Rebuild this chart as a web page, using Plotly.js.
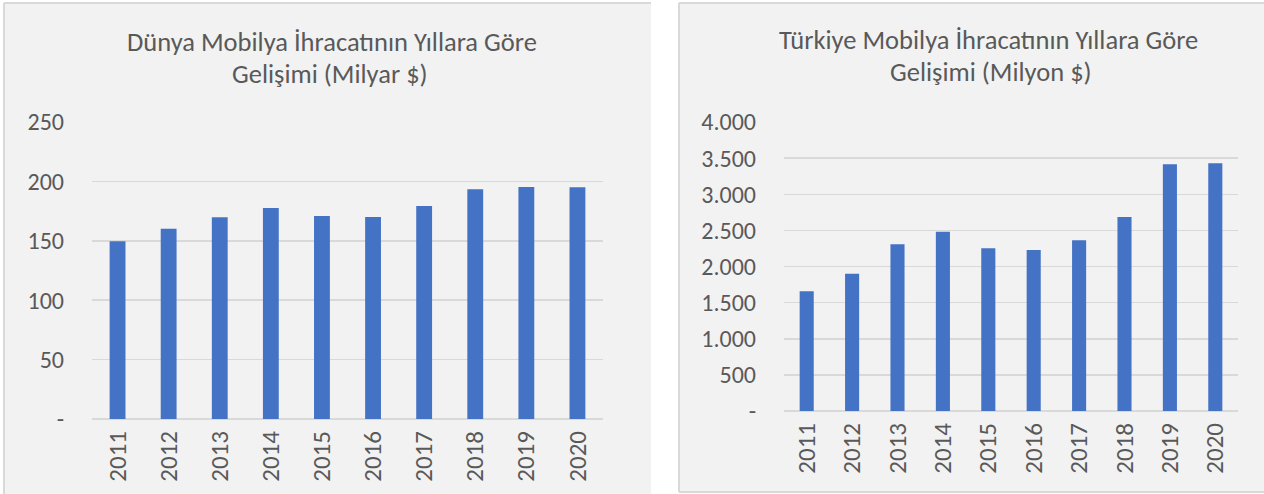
<!DOCTYPE html>
<html>
<head>
<meta charset="utf-8">
<script src="https://cdn.plot.ly/plotly-3.0.1.min.js"></script>
<style>
html,body{margin:0;padding:0;background:#fff;}
#chart{width:1264px;height:494px;}
</style>
</head>
<body>
<div id="chart"></div>
<script>
// ---- Data ----
const years = ["2011","2012","2013","2014","2015","2016","2017","2018","2019","2020"];
const worldExports = [149.6, 160.1, 169.8, 177.6, 170.9, 170.0, 179.3, 193.3, 195.3, 195.0]; // Milyar $
const turkeyExports = [1656, 1899, 2308, 2482, 2253, 2230, 2364, 2685, 3415, 3429]; // Milyon $
const worldTickVals = [0, 50, 100, 150, 200, 250];
const worldTickText = ["-", "50", "100", "150", "200", "250"];
const turkeyTickVals = [0, 500, 1000, 1500, 2000, 2500, 3000, 3500, 4000];
const turkeyTickText = ["-", "500", "1.000", "1.500", "2.000", "2.500", "3.000", "3.500", "4.000"];
const worldTitle1 = "Dünya Mobilya İhracatının Yıllara Göre";
const worldTitle2 = "Gelişimi (Milyar $)";
const turkeyTitle1 = "Türkiye Mobilya İhracatının Yıllara Göre";
const turkeyTitle2 = "Gelişimi (Milyon $)";

// ---- Layout helpers ----
const W = 1264, H = 494;
const px = v => v / W;
const py = v => 1 - v / H;
const FONT = "Calibri, Carlito, 'Open Sans', sans-serif";
const TXT = "#595959";
const GRID = "#d9d9d9";
const BAR = "#4472c4";

const traces = [
  {type: "bar", x: years, y: worldExports, xaxis: "x", yaxis: "y",
   marker: {color: BAR}, hoverinfo: "x+y"},
  {type: "bar", x: years, y: turkeyExports, xaxis: "x2", yaxis: "y2",
   marker: {color: BAR}, hoverinfo: "x+y"}
];

function yAxis(domain, range, vals, text, anchor) {
  return {
    domain: domain, range: range, anchor: anchor,
    tickmode: "array", tickvals: vals, ticktext: text,
    showgrid: true, gridcolor: GRID, gridwidth: 1.5,
    zeroline: true, zerolinecolor: GRID, zerolinewidth: 1.5,
    showline: false, ticks: "", ticklabelstandoff: 27,
    tickfont: {family: FONT, size: 24, color: TXT},
    fixedrange: true
  };
}
function xAxis(domain, anchor) {
  return {
    domain: domain, anchor: anchor, type: "category",
    tickangle: -90, showgrid: false, zeroline: false, showline: false,
    ticks: "", ticklabelstandoff: 6,
    tickfont: {family: FONT, size: 25, color: TXT},
    fixedrange: true
  };
}

const titleFont = {family: FONT, size: 26.5, color: TXT};
function ann(text, xc, yc) {
  return {text: text, xref: "paper", yref: "paper", x: px(xc), y: py(yc),
          xanchor: "center", yanchor: "middle", showarrow: false, font: titleFont};
}

const layout = {
  width: W, height: H,
  margin: {l: 0, r: 0, t: 0, b: 0},
  paper_bgcolor: "#ffffff", plot_bgcolor: "rgba(0,0,0,0)",
  showlegend: false, bargap: 0.69,
  xaxis: xAxis([px(92), px(603)], "y"),
  yaxis: yAxis([py(419), py(122)], [0, 250], worldTickVals, worldTickText, "x"),
  xaxis2: xAxis([px(784), px(1238)], "y2"),
  yaxis2: yAxis([py(411), py(122)], [0, 4000], turkeyTickVals, turkeyTickText, "x2"),
  shapes: [
    {type: "rect", xref: "paper", yref: "paper", x0: px(4), x1: px(651), y0: py(494), y1: py(3),
     fillcolor: "#f2f2f2", line: {width: 0}, layer: "below"},
    {type: "line", xref: "paper", yref: "paper", x0: px(4), x1: px(651), y0: py(3), y1: py(3),
     line: {color: GRID, width: 2}, layer: "below"},
    {type: "line", xref: "paper", yref: "paper", x0: px(4), x1: px(4), y0: py(3), y1: py(494),
     line: {color: GRID, width: 2}, layer: "below"},
    {type: "rect", xref: "paper", yref: "paper", x0: px(679), x1: px(1264), y0: py(492), y1: py(3),
     fillcolor: "#f2f2f2", line: {width: 0}, layer: "below"},
    {type: "line", xref: "paper", yref: "paper", x0: px(679), x1: px(1264), y0: py(3), y1: py(3),
     line: {color: GRID, width: 2}, layer: "below"},
    {type: "line", xref: "paper", yref: "paper", x0: px(679), x1: px(679), y0: py(3), y1: py(492),
     line: {color: GRID, width: 2}, layer: "below"},
    {type: "line", xref: "paper", yref: "paper", x0: px(679), x1: px(1264), y0: py(492), y1: py(492),
     line: {color: GRID, width: 2}, layer: "below"}
  ],
  annotations: [
    ann(worldTitle1, 332, 42),
    ann(worldTitle2, 330, 74),
    ann(turkeyTitle1, 989, 40),
    ann(turkeyTitle2, 991, 72)
  ]
};

Plotly.newPlot("chart", traces, layout, {displayModeBar: false, staticPlot: true});
</script>
</body>
</html>
